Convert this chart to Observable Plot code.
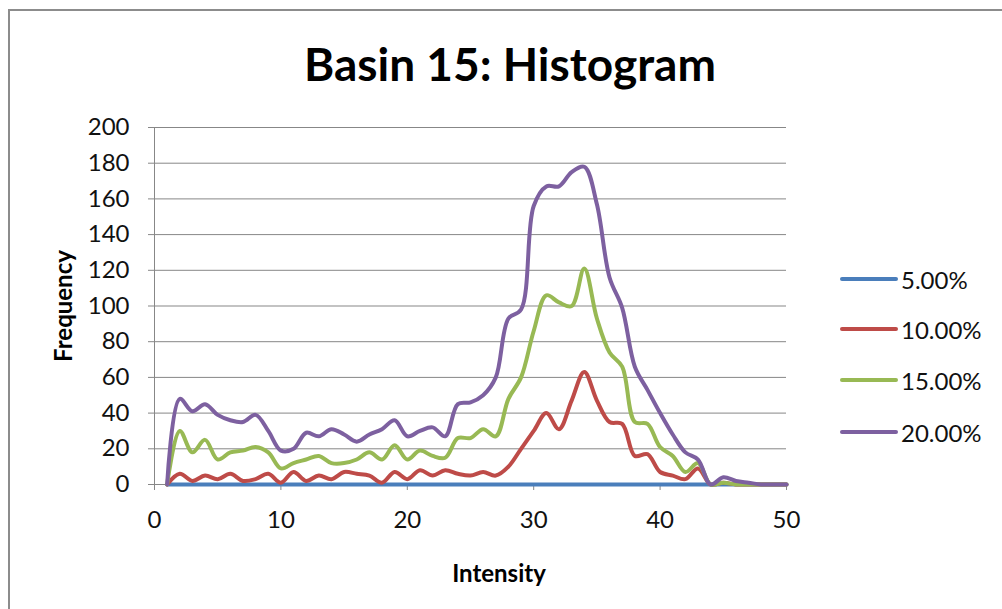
<!DOCTYPE html>
<html>
<head>
<meta charset="utf-8">
<script src="https://cdn.jsdelivr.net/npm/d3@7"></script>
<script src="https://cdn.jsdelivr.net/npm/@observablehq/plot@0.6"></script>
<style>
  html, body { margin: 0; padding: 0; background: #fff; }
  #wrap { position: relative; width: 1002px; height: 609px; overflow: hidden; font-family: Lato, "Open Sans", sans-serif; }
  #border { position: absolute; left: 8px; top: 9px; width: 1100px; height: 700px; border-left: 2px solid #8c8c8c; border-top: 2px solid #8c8c8c; }
  .abs { position: absolute; white-space: nowrap; }
  #title { left: 510px; top: 64px; transform: translate(-50%, -50%); font-size: 46px; font-weight: bold; color: #000; line-height: 1; }
  #ylab { left: 63px; top: 306px; transform: translate(-50%, -50%) rotate(-90deg); font-size: 24px; font-weight: bold; line-height: 1; }
  #xlab { left: 499px; top: 573px; transform: translate(-50%, -50%); font-size: 24px; font-weight: bold; line-height: 1; }
  .leg { position: absolute; left: 840px; height: 30px; display: flex; align-items: center; transform: translateY(-50%); font-size: 24px; color: #111; }
  .leg .sw { width: 58px; height: 4px; border-radius: 2px; margin-right: 3px; }
  #plot { position: absolute; left: 0; top: 0; }
</style>
</head>
<body>
<div id="wrap">
  <div id="border"></div>
  <div id="plot"></div>
  <div id="title" class="abs">Basin 15: Histogram</div>
  <div id="ylab" class="abs">Frequency</div>
  <div id="xlab" class="abs">Intensity</div>
  <div id="legend"></div>
</div>
<script>
const intensity = [1,2,3,4,5,6,7,8,9,10,11,12,13,14,15,16,17,18,19,20,21,22,23,24,25,26,27,28,29,30,31,32,33,34,35,36,37,38,39,40,41,42,43,44,45,46,47,48,49,50];
const seriesNames = ["5.00%", "10.00%", "15.00%", "20.00%"];
const seriesColors = ["#4a7ebb", "#be4b48", "#98b954", "#7d60a0"];
const s5  = [0,0,0,0,0,0,0,0,0,0,0,0,0,0,0,0,0,0,0,0,0,0,0,0,0,0,0,0,0,0,0,0,0,0,0,0,0,0,0,0,0,0,0,0,0,0,0,0,0,0];
const s10 = [0,6,2,5,3,6,2,3,6,1,7,2,5,3,7,6,5,1,7,3,8,5,8,6,5,7,5,10,20,30,40,31,47,63,47,35,34,16,17,7,5,3,9,0,1,0,0,0,0,0];
const s15 = [0,30,18,25,14,18,19,21,18,9,12,14,16,12,12,14,18,14,22,14,19,16,15,26,26,31,27,48,60,86,106,102,100,121,93,74,66,35,34,21,16,7,12,0,1,0,0,0,0,0];
const s20 = [0,48,41,45,39,36,35,39,30,19,20,29,27,31,28,24,28,31,36,27,30,32,27,45,46,50,60,93,98,156,167,167,175,178,157,116,99,66,53,40,28,18,14,0,4,2,1,0,0,0];
const yTicks = [0,20,40,60,80,100,120,140,160,180,200];
const xTicks = [0,10,20,30,40,50];

const allSeries = [s5, s10, s15, s20];
const rows = [];
allSeries.forEach((vals, k) => {
  intensity.forEach((x, i) => rows.push({x, y: vals[i], s: seriesNames[k]}));
});

const plot = Plot.plot({
  width: 1002,
  height: 609,
  marginLeft: 154,
  marginRight: 216,
  marginTop: 127,
  marginBottom: 125,
  style: { fontFamily: "Lato, 'Open Sans', sans-serif", fontSize: "24px", color: "#111", background: "transparent", overflow: "visible" },
  x: { domain: [0, 50] },
  y: { domain: [0, 200] },
  color: { domain: seriesNames, range: seriesColors },
  marks: [
    Plot.gridY(yTicks, { stroke: "#878787", strokeOpacity: 1, strokeWidth: 1 }),
    Plot.ruleX([0], { stroke: "#878787", strokeWidth: 1 }),
    Plot.axisY(yTicks, { tickSize: 6, tickPadding: 19, stroke: "#878787", label: null, fontSize: 24, fill: "#111" }),
    Plot.axisX(xTicks, { tickSize: 6, tickPadding: 20, stroke: "#878787", label: null, fontSize: 24, fill: "#111" }),
    Plot.line(rows, { x: "x", y: "y", z: "s", stroke: "s", strokeWidth: 4, curve: "catmull-rom", strokeLinejoin: "round", strokeLinecap: "round" })
  ]
});
document.getElementById("plot").appendChild(plot);

const legend = document.getElementById("legend");
const legY = [279, 329, 380, 432];
seriesNames.forEach((name, k) => {
  const row = document.createElement("div");
  row.className = "leg";
  row.style.top = legY[k] + "px";
  const sw = document.createElement("div");
  sw.className = "sw";
  sw.style.background = seriesColors[k];
  const t = document.createElement("span");
  t.textContent = name;
  row.appendChild(sw);
  row.appendChild(t);
  legend.appendChild(row);
});
</script>
</body>
</html>
